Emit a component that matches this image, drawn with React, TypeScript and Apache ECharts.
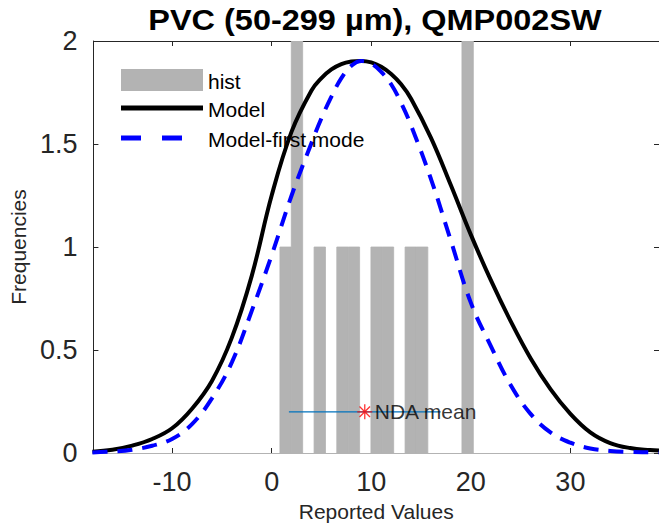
import React, { useEffect, useRef } from "react";
import * as echarts from "echarts";

const titleText = "PVC (50-299 µm), QMP002SW";
const xAxisName = "Reported Values";
const yAxisName = "Frequencies";
const xMin = -17.9;
const xMax = 38.9;
const yMin = 0;
const yMax = 2;
const yInterval = 0.5;

// histogram bins (left edges, common width) and counts
const histLeftEdges = [0.83, 1.97, 3.12, 4.26, 5.4, 6.54, 7.69, 8.83, 9.97, 11.11, 12.25, 13.4, 14.54, 15.68, 16.82, 17.97, 19.11];
const histBinWidth = 1.142;
const histCounts = [1, 2, 0, 1, 0, 1, 1, 0, 1, 1, 0, 1, 1, 0, 0, 0, 2];

// model curves
const curveX = [-18, -16, -14, -12, -10, -8, -6, -4, -2, 0, 2, 4, 5, 6, 7, 8, 9, 10, 11, 12, 13, 14, 16, 18, 20, 22, 24, 26, 28, 30, 32, 34, 36, 38, 38.9];
const modelY = [0.006, 0.016, 0.036, 0.068, 0.12, 0.215, 0.35, 0.56, 0.86, 1.25, 1.56, 1.76, 1.82, 1.862, 1.888, 1.9, 1.903, 1.896, 1.875, 1.84, 1.79, 1.72, 1.53, 1.3, 1.06, 0.84, 0.64, 0.46, 0.31, 0.19, 0.1, 0.048, 0.024, 0.014, 0.012];
const firstModeY = [0.003, 0.007, 0.016, 0.035, 0.068, 0.14, 0.265, 0.44, 0.69, 0.96, 1.25, 1.505, 1.625, 1.73, 1.82, 1.88, 1.903, 1.89, 1.85, 1.79, 1.7, 1.59, 1.33, 1.03, 0.73, 0.52, 0.33, 0.19, 0.1, 0.05, 0.022, 0.01, 0.005, 0.003, 0.002];

// NDA mean marker
const ndaMean = 9.35;
const ndaLevel = 0.2;
const ndaRange = [1.73, 16.97];
const ndaLabel = "NDA mean";

const seriesNames = ["hist", "Model", "Model-first mode"];

const FONT = "'Liberation Sans', Arial, Helvetica, sans-serif";
const AX = "#262626";
const BAR = "#b3b3b3";

export default function App() {
  const ref = useRef<HTMLDivElement>(null);
  useEffect(() => {
    if (!ref.current) return;
    const chart = echarts.init(ref.current, undefined, { renderer: "svg" });

    const histData = histLeftEdges
      .map((l, i) => [l, l + histBinWidth, histCounts[i]])
      .filter((d) => d[2] > 0);

    const tick = { show: true, inside: true, length: 5, lineStyle: { color: AX } };

    const option: any = {
      animation: false,
      backgroundColor: "#ffffff",
      textStyle: { fontFamily: FONT },
      grid: { left: 91, right: 0, top: 41, bottom: 79, containLabel: false },
      xAxis: [
        {
          type: "value",
          min: xMin,
          max: xMax,
          name: xAxisName,
          nameLocation: "middle",
          nameGap: 48,
          nameTextStyle: { fontSize: 21, color: AX, fontFamily: FONT },
          axisLine: { show: true, onZero: false, lineStyle: { color: BAR, width: 1 } },
          axisTick: tick,
          axisLabel: { show: true, fontSize: 27, color: AX, margin: 15, showMinLabel: false, showMaxLabel: false, fontFamily: FONT },
          splitLine: { show: false },
        },
        {
          type: "value",
          position: "top",
          min: xMin,
          max: xMax,
          axisLine: { show: true, onZero: false, lineStyle: { color: AX, width: 1 } },
          axisTick: tick,
          axisLabel: { show: false },
          splitLine: { show: false },
        },
      ],
      yAxis: [
        {
          type: "value",
          position: "left",
          min: yMin,
          max: yMax,
          interval: yInterval,
          name: yAxisName,
          nameLocation: "middle",
          nameGap: 60,
          nameTextStyle: { fontSize: 21, color: AX, fontFamily: FONT },
          axisLine: { show: true, onZero: false, lineStyle: { color: AX, width: 1 } },
          axisTick: tick,
          axisLabel: { show: true, fontSize: 27, color: AX, margin: 16, fontFamily: FONT },
          splitLine: { show: false },
        },
        {
          type: "value",
          position: "right",
          min: yMin,
          max: yMax,
          interval: yInterval,
          axisLine: { show: true, onZero: false, lineStyle: { color: AX, width: 1 } },
          axisTick: tick,
          axisLabel: { show: false },
          splitLine: { show: false },
        },
      ],
      series: [
        {
          name: seriesNames[0],
          type: "custom",
          xAxisIndex: 0,
          yAxisIndex: 0,
          clip: true,
          z: 1,
          encode: { x: [0, 1], y: 2 },
          data: histData,
          renderItem: (params: any, api: any) => {
            const p0 = api.coord([api.value(0), api.value(2)]);
            const p1 = api.coord([api.value(1), 0]);
            return {
              type: "rect",
              shape: { x: p0[0], y: p0[1], width: p1[0] - p0[0], height: p1[1] - p0[1] },
              style: { fill: BAR, stroke: BAR, lineWidth: 0.8 },
            };
          },
        },
        {
          name: seriesNames[1],
          type: "line",
          z: 3,
          smooth: 0.4,
          showSymbol: false,
          symbol: "none",
          data: curveX.map((x, i) => [x, modelY[i]]),
          lineStyle: { color: "#000000", width: 4 },
          itemStyle: { color: "#000000" },
        },
        {
          name: seriesNames[2],
          type: "line",
          z: 4,
          smooth: 0.4,
          showSymbol: false,
          symbol: "none",
          data: curveX.map((x, i) => [x, firstModeY[i]]),
          lineStyle: { color: "#0000ff", width: 4, type: [15, 10] },
          itemStyle: { color: "#0000ff" },
        },
        {
          name: "NDA range",
          type: "line",
          z: 5,
          symbol: "none",
          data: ndaRange.map((x) => [x, ndaLevel]),
          lineStyle: { color: "#0072BD", width: 1.2 },
        },
        {
          name: ndaLabel,
          type: "scatter",
          z: 6,
          symbol: "path://M0,-10L0,10M-10,0L10,0M-7,-7L7,7M-7,7L7,-7",
          symbolSize: 15,
          itemStyle: { color: "none", borderColor: "#ff0000", borderWidth: 1.3 },
          data: [[ndaMean, ndaLevel]],
          label: {
            show: true,
            position: "right",
            distance: 0,
            formatter: ndaLabel,
            fontSize: 21,
            color: "#000000",
            fontFamily: FONT,
          },
        },
      ],
      graphic: [
        {
          type: "text",
          x: 375,
          y: 20,
          scaleX: 1.12,
          z: 10,
          style: { text: titleText, fontSize: 29, fontWeight: "bold", fontFamily: FONT, fill: "#000", align: "center", verticalAlign: "middle" },
        },
        { type: "rect", z: 10, shape: { x: 121, y: 69, width: 82, height: 22 }, style: { fill: BAR } },
        { type: "text", z: 10, x: 208, y: 81, style: { text: seriesNames[0], fontSize: 21, fontFamily: FONT, fill: "#000", align: "left", verticalAlign: "middle" } },
        { type: "line", z: 10, shape: { x1: 121, y1: 108, x2: 203, y2: 108 }, style: { stroke: "#000", lineWidth: 5 } },
        { type: "text", z: 10, x: 208, y: 109, style: { text: seriesNames[1], fontSize: 21, fontFamily: FONT, fill: "#000", align: "left", verticalAlign: "middle" } },
        { type: "line", z: 10, shape: { x1: 121, y1: 138, x2: 203, y2: 138 }, style: { stroke: "#0000ff", lineWidth: 5, lineDash: [20, 21] } },
        { type: "text", z: 10, x: 208, y: 139, style: { text: seriesNames[2], fontSize: 21, fontFamily: FONT, fill: "#000", align: "left", verticalAlign: "middle" } },
      ],
    };
    chart.setOption(option);
    return () => chart.dispose();
  }, []);
  return <div ref={ref} style={{ position: "fixed", left: 0, top: 0, width: 659, height: 532, background: "#fff" }} />;
}
